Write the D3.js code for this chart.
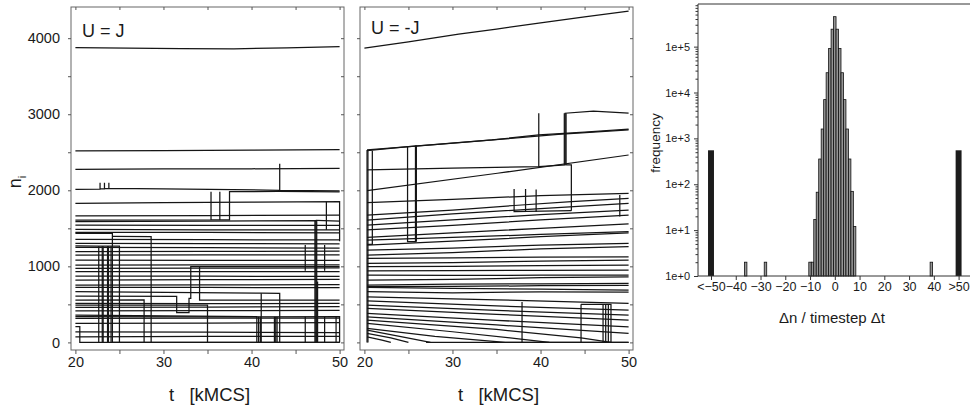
<!DOCTYPE html>
<html>
<head>
<meta charset="utf-8">
<script src="https://cdn.jsdelivr.net/npm/d3@7"></script>
<style>
body { margin: 0; background: #fff; }
text { font-family: "Liberation Sans", Arial, sans-serif; fill: #1a1a1a; }
</style>
</head>
<body>
<script>
// grain sizes n_i against time t [kMCS], U = J
var tracksJ = [
    [[20,3877],[26,3868],[32,3862],[38,3860],[44,3872],[50,3890]],
    [[20,2517],[30,2520],[40,2528],[50,2535]],
    [[20,2276],[30,2282],[40,2283],[50,2289]],
    [[20,2013],[22.8,2015],[22.8,2100],[22.8,2020],[23.3,2020],[23.3,2100],[23.3,2022],[23.8,2022],[23.8,2100],[23.8,2025],[30,2020],[43.2,2000],[43.2,2350],[43.2,2000],[50,1991]],
    [[20,1829],[30,1838],[40,1845],[50,1851],[50,1330]],
    [[48.5,1850],[48.5,1480]],
    [[20,1662],[35,1668],[50,1675]],
    [[20,1609],[35.4,1610],[35.4,1982],[35.4,1610],[36.4,1610],[36.4,1982],[36.4,1610],[37.5,1610],[37.5,1982],[43,1985],[50,1978]],
    [[20,1588],[35,1595],[47.3,1600],[47.3,0]],
    [[47.3,1605],[50,1595]],
    [[20,1543],[35,1540],[50,1538]],
    [[20,1487],[35,1480],[50,1478]],
    [[20,1447],[35,1445],[50,1440]],
    [[20,1434],[24.2,1434],[24.2,0]],
    [[24.2,1395],[28.6,1390],[28.6,0]],
    [[20,1355],[35,1350],[50,1348]],
    [[20,1303],[35,1300],[50,1296]],
    [[20,1268],[22.6,1265],[25.0,1265],[25.0,0]],
    [[22.65,1265],[22.65,0]],
    [[23.05,1265],[23.05,0]],
    [[23.15,1265],[23.15,0]],
    [[23.65,1265],[23.65,0]],
    [[23.75,1265],[23.75,0]],
    [[24.05,1265],[24.05,0]],
    [[20,1250],[35,1245],[50,1240]],
    [[20,1192],[35,1196],[50,1200]],
    [[20,1149],[35,1150],[50,1152]],
    [[20,1083],[35,1080],[50,1080]],
    [[20,1017],[35,1018],[50,1020]],
    [[20,973],[35,975],[50,980]],
    [[34.1,995],[50,996]],
    [[20,929],[35,930],[50,932]],
    [[20,872],[35,870],[50,868]],
    [[20,820],[35,825],[50,830]],
    [[20,754],[35,756],[50,760]],
    [[20,724],[35,722],[50,720]],
    [[20,666],[41.1,648],[43.2,645],[43.2,0]],
    [[41.1,645],[41.1,0]],
    [[20,609],[31.5,605],[31.5,390],[32.9,390],[32.9,580],[33.1,580],[33.1,995],[34.1,995],[34.1,557],[50,555]],
    [[20,557],[27.8,560],[27.8,0]],
    [[20,513],[35,510],[50,512]],
    [[20,491],[35,491],[35,0]],
    [[20,461],[35,465],[50,470]],
    [[20,416],[35,418],[50,420]],
    [[20,359],[40.6,340],[40.6,0]],
    [[40.8,338],[40.8,0]],
    [[41.0,338],[41.0,0]],
    [[42.6,338],[42.6,0]],
    [[42.75,338],[42.75,0]],
    [[42.9,338],[42.9,0]],
    [[20,338],[35,336],[50,338],[50,0]],
    [[46.1,338],[46.1,0]],
    [[48.3,338],[48.3,0]],
    [[49.6,338],[49.6,0]],
    [[46.1,1281],[46.1,943]],
    [[48.3,1281],[48.3,943]],
    [[47.2,1610],[47.2,0]],
    [[47.4,1610],[47.4,0]],
    [[47.5,800],[47.5,0]],
    [[20,316],[35,318],[50,320]],
    [[20,250],[35,255],[50,260]],
    [[20,206],[20.5,206],[20.5,0],[50,0]],
    [[20,139],[35,135],[50,130]],
    [[20,74],[35,78],[50,80]],
    [[24.2,0],[50,0]]
];

// same for U = -J
var tracksAntiJ = [
    [[20,3868],[25,3950],[30.7,4053],[35,4120],[39.8,4197],[45,4280],[50,4355]],
    [[20.3,2521],[25,2574],[34.5,2662],[39.8,2728],[45,2765],[50,2803]],
    [[20.3,2530],[28,2600],[36,2675],[42,2735],[50,2795]],
    [[20.3,2267],[30,2290],[39.8,2311],[42.8,2333],[42.8,3013],[46,3040],[50,3013]],
    [[42.7,3013],[42.7,2333]],
    [[42.9,3013],[42.9,2333]],
    [[39.8,3013],[39.8,2311]],
    [[42.9,2333],[43.5,2333],[43.5,1732]],
    [[20.3,1995],[35.1,2224],[50,2464]],
    [[20.3,1837],[30,1880],[40,1930],[50,1961]],
    [[20.3,1675],[30,1740],[37,1800],[43.5,1850],[50,1895]],
    [[37,2017],[37,1719],[43.5,1732]],
    [[38.3,2017],[38.3,1719]],
    [[39.5,2010],[39.5,1719]],
    [[20.3,1609],[30,1690],[40,1760],[49,1820],[50,1829]],
    [[49,1937],[49,1656]],
    [[20.3,1543],[30,1610],[40,1680],[50,1740]],
    [[20.3,1478],[30,1540],[40,1610],[50,1675]],
    [[20.3,1382],[30,1440],[40,1500],[50,1560]],
    [[20.3,1346],[30,1380],[40,1420],[50,1455]],
    [[20.3,1280],[30,1330],[40,1390],[50,1440]],
    [[20.3,1214],[30,1240],[40,1280],[50,1303]],
    [[20.3,1149],[30,1180],[40,1230],[50,1258]],
    [[20.3,1104],[30,1110],[40,1120],[50,1126]],
    [[20.3,1039],[30,1050],[40,1070],[50,1083]],
    [[20.3,995],[30,1000],[40,1010],[50,1017]],
    [[20.3,942],[30,945],[40,948],[50,950]],
    [[20.3,886],[30,880],[40,884],[50,886]],
    [[20.3,820],[30,830],[40,850],[50,860]],
    [[20.3,754],[30,765],[40,770],[50,776]],
    [[20.3,732],[30,735],[40,745],[50,750]],
    [[20.3,725],[30,710],[40,700],[50,688]],
    [[20.3,666],[30,650],[40,665],[50,660]],
    [[20.3,600],[35,560],[50,513]],
    [[20.3,547],[35,480],[50,425]],
    [[20.3,491],[35,420],[50,359]],
    [[20.3,447],[35,370],[50,293]],
    [[20.3,382],[35,290],[50,205]],
    [[20.3,337],[35,230],[50,118]],
    [[20.3,293],[35,170],[44.6,60],[48,0]],
    [[20.3,250],[30,140],[38,40],[41,0]],
    [[20.3,184],[28,80],[36,0]],
    [[20.3,162],[24,80],[27.5,0]],
    [[20.3,118],[23,60],[25,0]],
    [[20.3,74],[22,30],[23,0]],
    [[27,0],[50,0]],
    [[36,0],[50,0]],
    [[37.9,530],[37.9,0]],
    [[44.6,500],[44.6,0]],
    [[44.6,500],[48,500],[48,0]],
    [[47.1,500],[47.1,0]],
    [[47.4,500],[47.4,0]],
    [[47.7,500],[47.7,0]],
    [[20.3,2530],[20.3,0]],
    [[20.4,2530],[20.4,0]],
    [[20.9,2520],[20.9,1290],[20.3,1290]],
    [[24.9,2583],[24.9,1324],[25.8,1324],[25.8,2590]],
    [[25.9,2590],[25.9,1324]]
];

var timeTicks = [20, 25, 30, 35, 40, 45, 50];
var sizeTicks = [0, 500, 1000, 1500, 2000, 2500, 3000, 3500, 4000];

// histogram of size changes per timestep
var histBins = [-10, -9, -8, -7, -6, -5, -4, -3, -2, -1, 0, 1, 2, 3, 4, 5, 6, 7, 8];
var histCounts = [2, 2, 17, 67, 355, 1600, 7000, 27000, 91000, 240000, 450000, 240000, 91000, 27000, 7000, 1600, 355, 70, 12];
var rareBins = [-36, -28, 39];
var rareCounts = [2, 2, 2];
var tailBins = [-50, 50];
var tailCounts = [550, 550];
var deltaTicks = [-50, -40, -30, -20, -10, 0, 10, 20, 30, 40, 50];
var deltaLabels = ["<\u221250", "\u221240", "\u221230", "\u221220", "\u221210", "0", "10", "20", "30", "40", ">50"];
var freqDecades = [0, 1, 2, 3, 4, 5];

var svg = d3.select("body").append("svg").attr("width", 970).attr("height", 411);

drawPanel(71, tracksJ, "U = J", 36.5, true);
drawPanel(360, tracksAntiJ, "U = -J", 34, false);
drawHistogram();

function drawPanel(left, tracks, title, titleBaseline, showSizeLabels) {
    var right = left + 273, top = 7, bottom = 350;
    var x = d3.scaleLinear().domain([19.5, 50.5]).range([left, right]);
    var y = d3.scaleLinear().domain([-100, 4410]).range([bottom, top]);
    var g = svg.append("g");

    g.selectAll("path.track")
        .data(tracks)
        .join("path")
        .attr("class", "track")
        .attr("fill", "none")
        .attr("stroke", "#151515")
        .attr("stroke-width", 1.25)
        .attr("d", d3.line().x(d => x(d[0])).y(d => y(d[1])));

    g.append("rect")
        .attr("x", left).attr("y", top)
        .attr("width", right - left).attr("height", bottom - top)
        .attr("fill", "none").attr("stroke", "#666").attr("stroke-width", 1);

    var axisBottom = g.append("g")
        .attr("transform", "translate(0," + bottom + ")")
        .call(d3.axisBottom(x).tickValues(timeTicks).tickSize(4).tickPadding(3)
            .tickFormat(d => d % 10 === 0 ? d : ""));
    var axisTop = g.append("g")
        .attr("transform", "translate(0," + top + ")")
        .call(d3.axisTop(x).tickValues(timeTicks).tickSize(-3).tickFormat(""));
    var axisLeft = g.append("g")
        .attr("transform", "translate(" + left + ",0)")
        .call(d3.axisLeft(y).tickValues(sizeTicks).tickSize(3).tickPadding(8)
            .tickFormat(d => showSizeLabels && d % 1000 === 0 ? d : ""));
    var axisRight = g.append("g")
        .attr("transform", "translate(" + right + ",0)")
        .call(d3.axisRight(y).tickValues(sizeTicks).tickSize(-3).tickFormat(""));

    for (var a of [axisBottom, axisTop, axisLeft, axisRight]) {
        a.select(".domain").remove();
        a.selectAll("line").attr("stroke", "#555");
        a.selectAll("text").style("font-size", "14.5px").attr("fill", "#1a1a1a");
    }

    g.append("text")
        .attr("x", (x(20) + x(50)) / 2 + 2).attr("y", 401)
        .attr("text-anchor", "middle")
        .style("font-size", "18.5px")
        .text("t\u00a0\u00a0\u00a0[kMCS]");

    g.append("text")
        .attr("x", left + 11).attr("y", titleBaseline)
        .style("font-size", "18px")
        .text(title);

    if (showSizeLabels) {
        var ylab = g.append("text")
            .attr("transform", "translate(21,182) rotate(-90)")
            .attr("text-anchor", "middle")
            .style("font-size", "18px");
        ylab.append("tspan").text("n");
        ylab.append("tspan").attr("dy", 5).style("font-size", "11px").text("i");
    }
}

function drawHistogram() {
    var left = 698, top = 4, bottom = 276;
    var x = d3.scaleLinear().domain([-50, 50]).range([711, 958.6]);
    var y = d3.scaleLog().domain([1, 850000]).range([bottom, top]);
    var g = svg.append("g");

    g.selectAll("rect.bin")
        .data(histBins.map((b, i) => [b, histCounts[i]]).concat(rareBins.map((b, i) => [b, rareCounts[i]])))
        .join("rect")
        .attr("class", "bin")
        .attr("x", d => x(d[0] - 0.5))
        .attr("width", d => x(d[0] + 0.5) - x(d[0] - 0.5))
        .attr("y", d => y(d[1]))
        .attr("height", d => y(1) - y(d[1]))
        .attr("fill", "#959595")
        .attr("stroke", "#111")
        .attr("stroke-width", 0.8);

    g.selectAll("rect.tail")
        .data(tailBins.map((b, i) => [b, tailCounts[i]]))
        .join("rect")
        .attr("class", "tail")
        .attr("x", d => x(d[0] - 1.2))
        .attr("width", d => x(d[0] + 1.2) - x(d[0] - 1.2))
        .attr("y", d => y(d[1]))
        .attr("height", d => y(1) - y(d[1]))
        .attr("fill", "#1c1c1c");

    g.append("path")
        .attr("d", "M" + 975 + "," + top + "H" + left + "V" + bottom + "H" + 975)
        .attr("fill", "none").attr("stroke", "#333").attr("stroke-width", 1);

    var minorTicks = [];
    for (var k of freqDecades) {
        for (var m = 2; m <= 9; m++) {
            if (m * Math.pow(10, k) < 850000) minorTicks.push(m * Math.pow(10, k));
        }
    }
    var axisMinor = g.append("g")
        .attr("transform", "translate(" + left + ",0)")
        .call(d3.axisLeft(y).tickValues(minorTicks).tickSize(2.5).tickFormat(""));
    var axisMajor = g.append("g")
        .attr("transform", "translate(" + left + ",0)")
        .call(d3.axisLeft(y).tickValues(freqDecades.map(k => Math.pow(10, k))).tickSize(4).tickPadding(4)
            .tickFormat(d => "1e+" + Math.round(Math.log10(d))));
    var axisX = g.append("g")
        .attr("transform", "translate(0," + bottom + ")")
        .call(d3.axisBottom(x).tickValues(deltaTicks).tickSize(4).tickPadding(2)
            .tickFormat((d, i) => deltaLabels[i]));

    for (var a of [axisMinor, axisMajor, axisX]) {
        a.select(".domain").remove();
        a.selectAll("line").attr("stroke", "#333");
    }
    axisMajor.selectAll("text").style("font-size", "11px").attr("fill", "#1a1a1a");
    axisX.selectAll("text").style("font-size", "12.5px").attr("fill", "#1a1a1a");

    g.append("text")
        .attr("x", 832).attr("y", 323)
        .attr("text-anchor", "middle")
        .style("font-size", "15px")
        .text("\u0394n / timestep \u0394t");

    g.append("text")
        .attr("transform", "translate(660,143) rotate(-90)")
        .attr("text-anchor", "middle")
        .style("font-size", "13.5px")
        .text("frequency");
}
</script>
</body>
</html>
